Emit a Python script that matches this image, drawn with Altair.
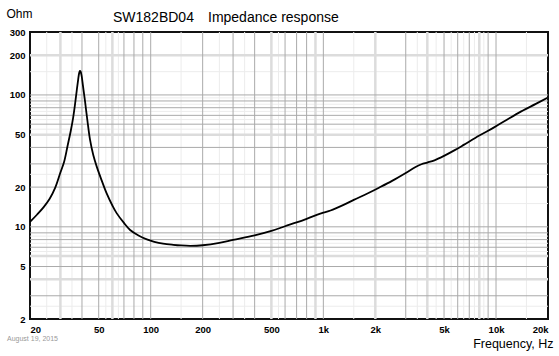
import altair as alt
import pandas as pd

# Impedance curve (frequency Hz, impedance Ohm)
freq = [20, 22, 24, 26, 28, 30, 31.5, 33, 34.5, 35.6, 36.5, 37.3, 38, 38.5, 38.9,
        39.3, 39.8, 40.5, 41.6, 43, 44.5, 46.5, 48.7, 52, 55.6, 60, 63.5, 70, 76,
        85, 95, 105, 118, 135, 150, 170, 200, 250, 300, 400, 500, 600, 700, 800,
        900, 1000, 1100, 1300, 1500, 1800, 2100, 2500, 3000, 3400, 3700, 4000,
        4400, 5000, 5800, 6500, 8000, 9800, 11500, 14000, 17000, 20000]
ohm = [10.9, 12.4, 14.1, 16.3, 19.8, 25.8, 31, 41, 54, 68, 86, 108, 130, 146, 152,
       150, 140, 118, 91, 64, 46, 35, 28.6, 22.5, 17.9, 14.5, 12.7, 10.7, 9.46,
       8.6, 8.04, 7.7, 7.45, 7.3, 7.22, 7.18, 7.25, 7.55, 7.95, 8.6, 9.3, 10.1, 10.8, 11.5,
       12.2, 12.8, 13.3, 14.6, 16.0, 17.9, 19.8, 22.3, 25.6, 28.3, 29.8, 30.7,
       31.9, 34.5, 38.3, 41.8, 49.2, 57, 64.6, 75, 85.5, 95.6]

# tick labels
x_ticks = [20, 50, 100, 200, 500, 1000, 2000, 5000, 10000, 20000]
y_ticks = [2, 5, 10, 20, 50, 100, 200, 300]

# grid lines
vgrid_dark = [40, 50, 70, 80, 90, 100, 200, 300, 400, 600, 700, 800, 1000,
              3000, 5000, 6000, 7000, 9000, 10000]
vgrid_thick = [30, 60, 500, 900, 2000, 4000, 8000]
vgrid_thin = [25, 35, 55, 65, 150, 250, 350, 550, 1500, 3500, 4500, 5500,
              6500, 7500, 8500, 15000]
hgrid_dark = [3, 5, 7, 8, 9, 10, 20, 30, 40, 60, 70, 80, 90, 100]
hgrid_thick = [4, 6, 50, 200]
hgrid_thin = [2.5, 6.5, 7.5, 8.5, 15, 25, 55, 65, 75, 85, 95, 150]

FONT = "Liberation Sans"

xscale = alt.Scale(type="log", domain=[20, 20000], nice=False)
yscale = alt.Scale(type="log", domain=[2, 300], nice=False)

xaxis = alt.Axis(values=x_ticks, grid=False, ticks=False, domain=False,
                 labelExpr="datum.value >= 1000 ? (datum.value/1000) + 'k' : datum.value",
                 labelFont=FONT, labelFontSize=9.5, labelFontWeight="bold",
                 labelColor="black", labelPadding=5, labelFlush=True,
                 title="Frequency, Hz", titleFont=FONT, titleFontSize=12.5,
                 titleFontWeight="normal", titleColor="black",
                 titleAlign="right", titleAnchor="end", titleX=523,
                 titleY=28, titleBaseline="alphabetic")
yaxis = alt.Axis(values=y_ticks, grid=False, ticks=False, domain=False,
                 labelFont=FONT, labelFontSize=9.5, labelFontWeight="bold",
                 labelColor="black", labelPadding=5,
                 title="Ohm", titleFont=FONT, titleFontSize=12,
                 titleFontWeight="normal", titleColor="black",
                 titleAngle=0, titleAlign="left", titleX=-24, titleY=-15,
                 titleBaseline="alphabetic")


def vrules(vals, color, width):
    return alt.Chart(pd.DataFrame({"f": vals})).mark_rule(
        color=color, strokeWidth=width
    ).encode(x=alt.X("f:Q", scale=xscale, axis=xaxis))


def hrules(vals, color, width):
    return alt.Chart(pd.DataFrame({"z": vals})).mark_rule(
        color=color, strokeWidth=width
    ).encode(y=alt.Y("z:Q", scale=yscale, axis=yaxis))


grid = [
    vrules(vgrid_thin, "#ececec", 1),
    hrules(hgrid_thin, "#ececec", 1),
    vrules(vgrid_thick, "#dcdcdc", 2.5),
    hrules(hgrid_thick, "#dcdcdc", 2.5),
    vrules(vgrid_dark, "#aaaaaa", 1),
    hrules(hgrid_dark, "#aaaaaa", 1),
]

curve = alt.Chart(pd.DataFrame({"f": freq, "z": ohm})).mark_line(
    color="black", strokeWidth=1.8, interpolate="catmull-rom"
).encode(
    x=alt.X("f:Q", scale=xscale, axis=xaxis),
    y=alt.Y("z:Q", scale=yscale, axis=yaxis),
    order=alt.Order("f:Q"),
)


def label(txt, x, y, size, color="black"):
    return alt.Chart(pd.DataFrame({"t": [txt]})).mark_text(
        align="left", baseline="alphabetic", font=FONT, fontSize=size, color=color
    ).encode(x=alt.value(x), y=alt.value(y), text="t:N")


texts = [
    label("SW182BD04", 83, -10, 14),
    label("Impedance response", 178, -10, 14),
    label("August 19, 2015", -23, 309, 7, "#999999"),
]

chart = alt.layer(*grid, curve, *texts).properties(
    width=518, height=287,
    autosize=alt.AutoSizeParams(type="none"),
    padding={"left": 30, "top": 32, "right": 11, "bottom": 37},
    background="white",
).configure_view(stroke="#111111", strokeWidth=2)

chart.save("out.html", embed_options={"renderer": "svg", "actions": False})
